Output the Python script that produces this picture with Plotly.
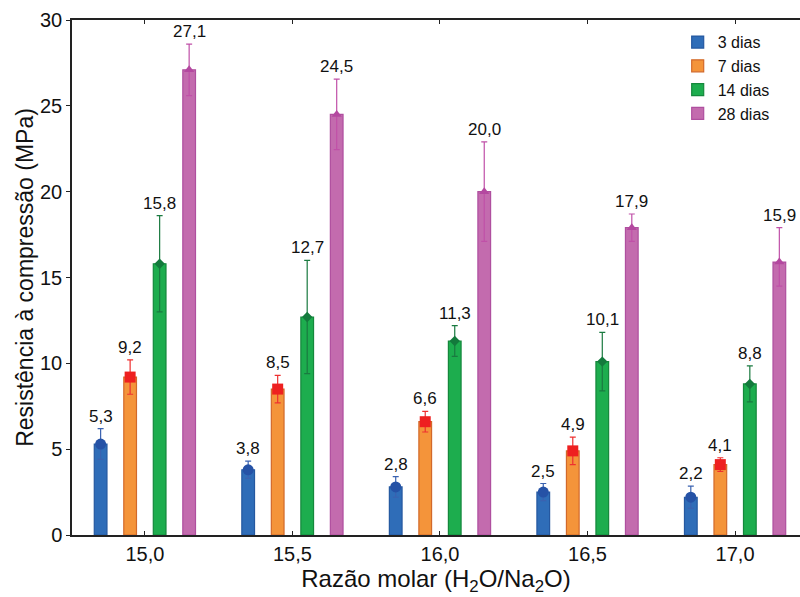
import plotly.graph_objects as go

# ---- data ----
ratios = [15.0, 15.5, 16.0, 16.5, 17.0]
ratio_labels = ["15,0", "15,5", "16,0", "16,5", "17,0"]
series_names = ["3 dias", "7 dias", "14 dias", "28 dias"]
v3 = [5.3, 3.8, 2.8, 2.5, 2.2]
v7 = [9.2, 8.5, 6.6, 4.9, 4.1]
v14 = [15.8, 12.7, 11.3, 10.1, 8.8]
v28 = [27.1, 24.5, 20.0, 17.9, 15.9]
e3 = [0.9, 0.5, 0.6, 0.5, 0.65]
e7 = [1.0, 0.8, 0.6, 0.8, 0.4]
e14 = [2.8, 3.3, 0.9, 1.7, 1.05]
e28 = [1.5, 2.05, 2.9, 0.8, 2.0]
e28_minus = [1.5, 2.05, 2.9, 0.8, 1.4]

values = [v3, v7, v14, v28]
errs_plus = [e3, e7, e14, e28]
errs_minus = [e3, e7, e14, e28_minus]

# styles
bar_fill = ["#2F6DB8", "#F4943A", "#1DAD4E", "#C36BAE"]
bar_line = ["#2558A0", "#D2692A", "#15883C", "#AF4F9F"]
mk_color = ["#2552A6", "#EE2020", "#137A3C", "#B448A0"]
err_color = ["#3A62B0", "#EE3030", "#1A7A40", "#C050A8"]
mk_symbol = ["circle", "square", "diamond", "triangle-up"]
mk_size = [11, 11, 8, 9]
offsets = [-0.15, -0.05, 0.05, 0.15]
bar_w = 0.043

FONT = "Liberation Sans, Arial, sans-serif"

fig = go.Figure()
for i, name in enumerate(series_names):
    xs = [r + offsets[i] for r in ratios]
    fig.add_trace(go.Bar(
        x=xs, y=values[i], width=bar_w, name=name,
        marker=dict(color=bar_fill[i], line=dict(color=bar_line[i], width=1.2)),
    ))
for i, name in enumerate(series_names):
    xs = [r + offsets[i] for r in ratios]
    fig.add_trace(go.Scatter(
        x=xs, y=values[i], mode="markers", showlegend=False,
        marker=dict(symbol=mk_symbol[i], color=mk_color[i], size=mk_size[i]),
        error_y=dict(type="data", array=errs_plus[i], arrayminus=errs_minus[i],
                     symmetric=False, color=err_color[i], thickness=1.2, width=3),
    ))
    for j, r in enumerate(ratios):
        fig.add_annotation(
            x=r + offsets[i], y=values[i][j] + errs_plus[i][j],
            text=f"{values[i][j]:.1f}".replace(".", ","),
            showarrow=False, yanchor="bottom", yshift=1,
            font=dict(family=FONT, size=17, color="#111111"),
        )

fig.update_layout(
    width=800, height=597,
    margin=dict(l=72, r=0, t=20, b=62),
    plot_bgcolor="white", paper_bgcolor="white",
    barmode="overlay",
    font=dict(family=FONT, color="#111111"),
    legend=dict(x=0.832, y=0.99, xanchor="left", yanchor="top",
                font=dict(family=FONT, size=16, color="#111111"),
                bgcolor="rgba(0,0,0,0)", itemwidth=30, tracegroupgap=0),
    xaxis=dict(
        range=[14.753, 17.22], tickmode="array", tickvals=ratios, ticktext=ratio_labels,
        ticks="inside", ticklen=4, tickcolor="#222", showline=True, linecolor="#222",
        linewidth=1.5, mirror="ticks", showgrid=False, zeroline=False,
        tickfont=dict(size=20), title=dict(text="Razão molar (H<sub>2</sub>O/Na<sub>2</sub>O)",
                                           font=dict(size=24), standoff=6),
    ),
    yaxis=dict(
        range=[0, 30], tickvals=[0, 5, 10, 15, 20, 25, 30],
        ticks="outside", ticklen=4, tickcolor="#222", showline=True, linecolor="#222",
        linewidth=1.5, showgrid=False, zeroline=False,
        tickfont=dict(size=20), title=dict(text="Resistência à compressão (MPa)",
                                           font=dict(size=23), standoff=0),
    ),
)

fig.write_html("out.html")
